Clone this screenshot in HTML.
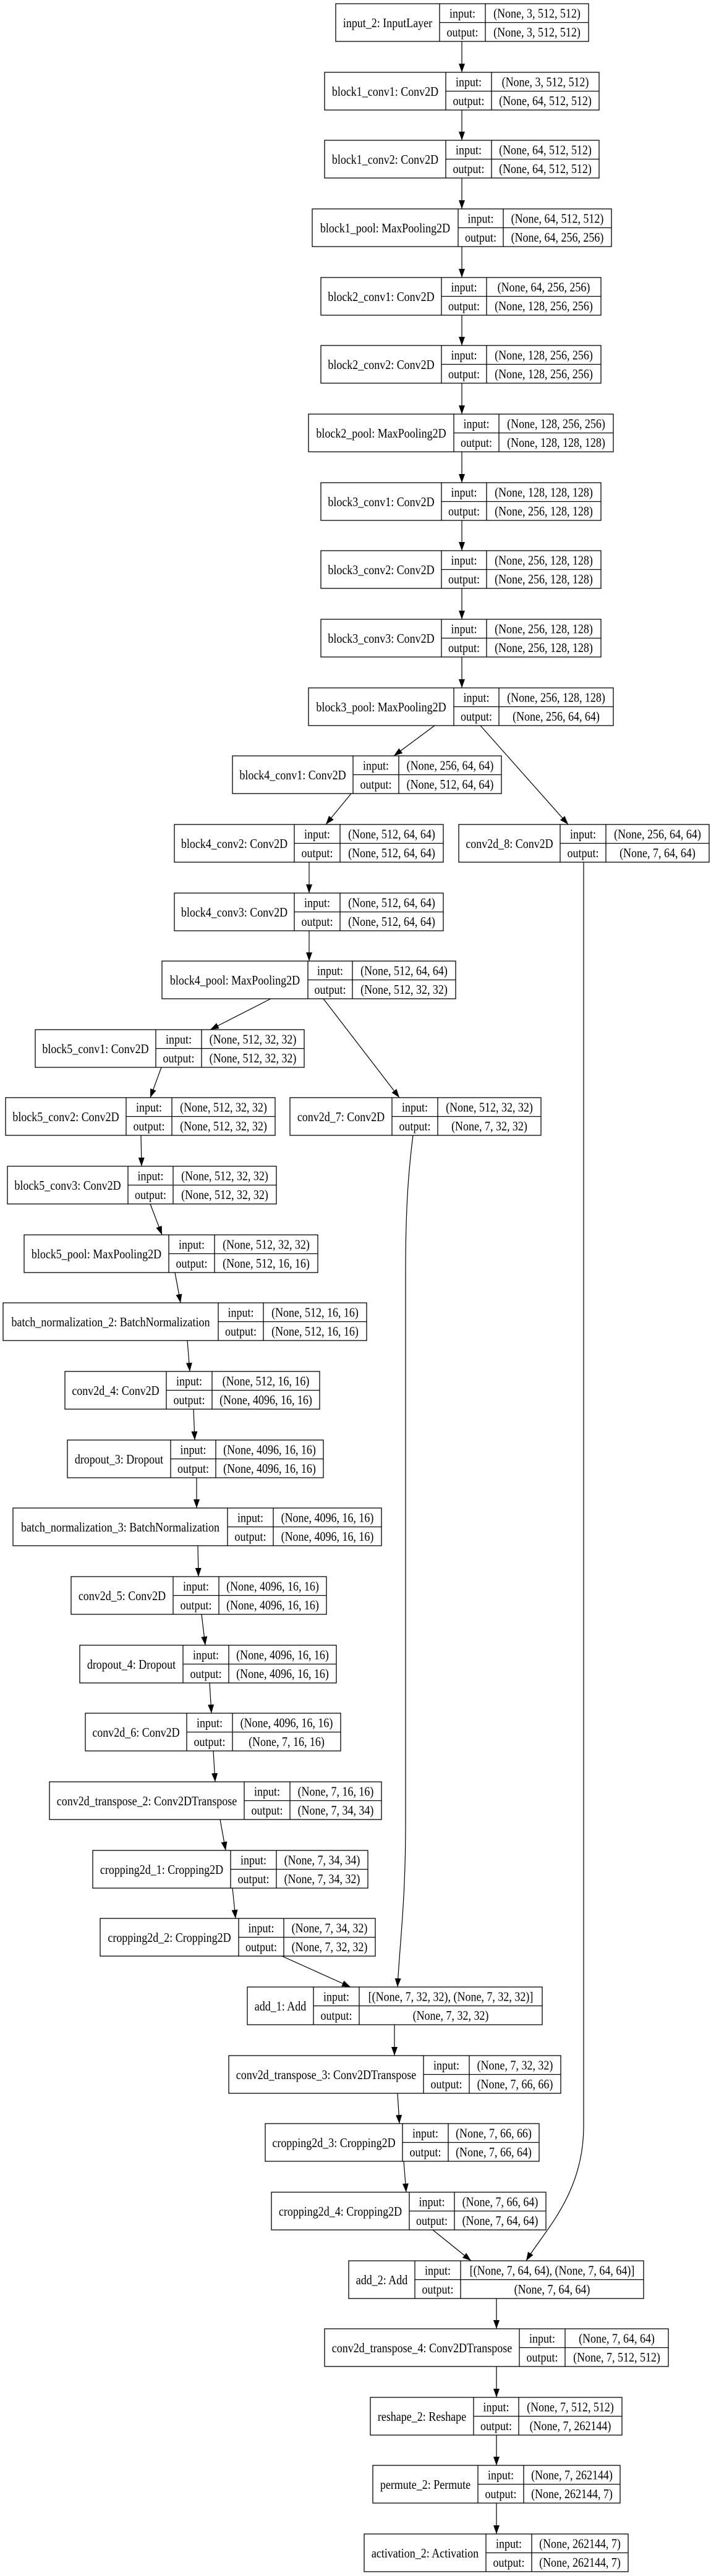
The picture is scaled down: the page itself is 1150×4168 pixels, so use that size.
<!DOCTYPE html>
<html><head><meta charset="utf-8">
<style>
html,body{margin:0;padding:0;background:#fff;}
svg{display:block;}
text{font-family:"Liberation Serif","Times New Roman",serif;font-size:18px;fill:#000;text-anchor:middle;transform-box:fill-box;transform-origin:center;transform:scaleY(1.15);}
.n rect{fill:#fff;stroke:#000;stroke-width:1.3;}
.n line{stroke:#000;stroke-width:1.3;}
.e{fill:none;stroke:#000;stroke-width:1.2;marker-end:url(#ah);}
</style></head><body>
<svg width="1150" height="4168" viewBox="0 0 1150 4168" xmlns="http://www.w3.org/2000/svg">
<defs><marker id="ah" markerUnits="userSpaceOnUse" markerWidth="14" markerHeight="10" refX="14" refY="5" orient="auto"><path d="M0,0 L14,5 L0,10 z" fill="#000"/></marker></defs>

<!-- edges -->
<path class="e" d="M747,67 L747,117"/>
<path class="e" d="M747,178 L747,227"/>
<path class="e" d="M747,288 L747,338"/>
<path class="e" d="M747,399 L747,449"/>
<path class="e" d="M747,510 L747,559"/>
<path class="e" d="M747,620 L747,670"/>
<path class="e" d="M747,731 L747,781"/>
<path class="e" d="M747,842 L747,891"/>
<path class="e" d="M747,952 L747,1002"/>
<path class="e" d="M747,1063 L747,1113"/>
<path class="e" d="M703,1174 L637,1223"/>
<path class="e" d="M777,1174 L919,1334"/>
<path class="e" d="M568,1284 L527,1334"/>
<path class="e" d="M500,1395 L500,1445"/>
<path class="e" d="M500,1506 L500,1555"/>
<path class="e" d="M438,1616 L340,1666"/>
<path class="e" d="M523,1616 L646,1776"/>
<path class="e" d="M261,1727 L243,1776"/>
<path class="e" d="M228,1837 L229,1887"/>
<path class="e" d="M243,1948 L262,1998"/>
<path class="e" d="M283,2059 L292,2108"/>
<path class="e" d="M303,2169 L307,2219"/>
<path class="e" d="M313,2280 L315,2330"/>
<path class="e" d="M318,2391 L318,2440"/>
<path class="e" d="M320,2501 L321,2551"/>
<path class="e" d="M326,2612 L332,2662"/>
<path class="e" d="M339,2723 L342,2772"/>
<path class="e" d="M345,2833 L348,2883"/>
<path class="e" d="M356,2944 L365,2994"/>
<path class="e" d="M376,3055 L381,3104"/>
<path class="e" d="M456,3165 L567,3215"/>
<path class="e" d="M668,1837 C660,1900 656,1960 656,2060 L656,2950 C656,3080 646,3150 643,3215"/>
<path class="e" d="M638,3276 L638,3326"/>
<path class="e" d="M643,3387 L646,3436"/>
<path class="e" d="M653,3497 L657,3547"/>
<path class="e" d="M700,3608 L762,3658"/>
<path class="e" d="M944,1395 L944,3440 C944,3550 880,3610 851,3658"/>
<path class="e" d="M803,3719 L803,3768"/>
<path class="e" d="M803,3829 L803,3879"/>
<path class="e" d="M803,3940 L803,3989"/>
<path class="e" d="M803,4050 L803,4100"/>

<!-- nodes -->
<g class="n" transform="translate(543,6)"><rect width="409" height="61"/><line x1="168" y1="0" x2="168" y2="61"/><line x1="242" y1="0" x2="242" y2="61"/><line x1="168" y1="30.5" x2="409" y2="30.5"/>
<text x="84" y="37">input_2: InputLayer</text><text x="205" y="21.5">input:</text><text x="205" y="52">output:</text><text x="325.5" y="21.5">(None, 3, 512, 512)</text><text x="325.5" y="52">(None, 3, 512, 512)</text></g>

<g class="n" transform="translate(525,117)"><rect width="444" height="61"/><line x1="196" y1="0" x2="196" y2="61"/><line x1="270" y1="0" x2="270" y2="61"/><line x1="196" y1="30.5" x2="444" y2="30.5"/>
<text x="98" y="37">block1_conv1: Conv2D</text><text x="233" y="21.5">input:</text><text x="233" y="52">output:</text><text x="357" y="21.5">(None, 3, 512, 512)</text><text x="357" y="52">(None, 64, 512, 512)</text></g>

<g class="n" transform="translate(525,227)"><rect width="444" height="61"/><line x1="196" y1="0" x2="196" y2="61"/><line x1="270" y1="0" x2="270" y2="61"/><line x1="196" y1="30.5" x2="444" y2="30.5"/>
<text x="98" y="37">block1_conv2: Conv2D</text><text x="233" y="21.5">input:</text><text x="233" y="52">output:</text><text x="357" y="21.5">(None, 64, 512, 512)</text><text x="357" y="52">(None, 64, 512, 512)</text></g>

<g class="n" transform="translate(505,338)"><rect width="484" height="61"/><line x1="236" y1="0" x2="236" y2="61"/><line x1="309" y1="0" x2="309" y2="61"/><line x1="236" y1="30.5" x2="484" y2="30.5"/>
<text x="118" y="37">block1_pool: MaxPooling2D</text><text x="272.5" y="21.5">input:</text><text x="272.5" y="52">output:</text><text x="396.5" y="21.5">(None, 64, 512, 512)</text><text x="396.5" y="52">(None, 64, 256, 256)</text></g>

<g class="n" transform="translate(519,449)"><rect width="453" height="61"/><line x1="195" y1="0" x2="195" y2="61"/><line x1="268" y1="0" x2="268" y2="61"/><line x1="195" y1="30.5" x2="453" y2="30.5"/>
<text x="97.5" y="37">block2_conv1: Conv2D</text><text x="231.5" y="21.5">input:</text><text x="231.5" y="52">output:</text><text x="360.5" y="21.5">(None, 64, 256, 256)</text><text x="360.5" y="52">(None, 128, 256, 256)</text></g>

<g class="n" transform="translate(519,559)"><rect width="453" height="61"/><line x1="195" y1="0" x2="195" y2="61"/><line x1="268" y1="0" x2="268" y2="61"/><line x1="195" y1="30.5" x2="453" y2="30.5"/>
<text x="97.5" y="37">block2_conv2: Conv2D</text><text x="231.5" y="21.5">input:</text><text x="231.5" y="52">output:</text><text x="360.5" y="21.5">(None, 128, 256, 256)</text><text x="360.5" y="52">(None, 128, 256, 256)</text></g>

<g class="n" transform="translate(499,670)"><rect width="493" height="61"/><line x1="235" y1="0" x2="235" y2="61"/><line x1="308" y1="0" x2="308" y2="61"/><line x1="235" y1="30.5" x2="493" y2="30.5"/>
<text x="117.5" y="37">block2_pool: MaxPooling2D</text><text x="271.5" y="21.5">input:</text><text x="271.5" y="52">output:</text><text x="400.5" y="21.5">(None, 128, 256, 256)</text><text x="400.5" y="52">(None, 128, 128, 128)</text></g>

<g class="n" transform="translate(519,781)"><rect width="453" height="61"/><line x1="195" y1="0" x2="195" y2="61"/><line x1="268" y1="0" x2="268" y2="61"/><line x1="195" y1="30.5" x2="453" y2="30.5"/>
<text x="97.5" y="37">block3_conv1: Conv2D</text><text x="231.5" y="21.5">input:</text><text x="231.5" y="52">output:</text><text x="360.5" y="21.5">(None, 128, 128, 128)</text><text x="360.5" y="52">(None, 256, 128, 128)</text></g>

<g class="n" transform="translate(519,891)"><rect width="453" height="61"/><line x1="195" y1="0" x2="195" y2="61"/><line x1="268" y1="0" x2="268" y2="61"/><line x1="195" y1="30.5" x2="453" y2="30.5"/>
<text x="97.5" y="37">block3_conv2: Conv2D</text><text x="231.5" y="21.5">input:</text><text x="231.5" y="52">output:</text><text x="360.5" y="21.5">(None, 256, 128, 128)</text><text x="360.5" y="52">(None, 256, 128, 128)</text></g>

<g class="n" transform="translate(519,1002)"><rect width="453" height="61"/><line x1="195" y1="0" x2="195" y2="61"/><line x1="268" y1="0" x2="268" y2="61"/><line x1="195" y1="30.5" x2="453" y2="30.5"/>
<text x="97.5" y="37">block3_conv3: Conv2D</text><text x="231.5" y="21.5">input:</text><text x="231.5" y="52">output:</text><text x="360.5" y="21.5">(None, 256, 128, 128)</text><text x="360.5" y="52">(None, 256, 128, 128)</text></g>

<g class="n" transform="translate(499,1113)"><rect width="493" height="61"/><line x1="235" y1="0" x2="235" y2="61"/><line x1="308" y1="0" x2="308" y2="61"/><line x1="235" y1="30.5" x2="493" y2="30.5"/>
<text x="117.5" y="37">block3_pool: MaxPooling2D</text><text x="271.5" y="21.5">input:</text><text x="271.5" y="52">output:</text><text x="400.5" y="21.5">(None, 256, 128, 128)</text><text x="400.5" y="52">(None, 256, 64, 64)</text></g>

<g class="n" transform="translate(376,1223)"><rect width="435" height="61"/><line x1="195" y1="0" x2="195" y2="61"/><line x1="269" y1="0" x2="269" y2="61"/><line x1="195" y1="30.5" x2="435" y2="30.5"/>
<text x="97.5" y="37">block4_conv1: Conv2D</text><text x="232" y="21.5">input:</text><text x="232" y="52">output:</text><text x="352" y="21.5">(None, 256, 64, 64)</text><text x="352" y="52">(None, 512, 64, 64)</text></g>

<g class="n" transform="translate(282,1334)"><rect width="435" height="61"/><line x1="194" y1="0" x2="194" y2="61"/><line x1="268" y1="0" x2="268" y2="61"/><line x1="194" y1="30.5" x2="435" y2="30.5"/>
<text x="97" y="37">block4_conv2: Conv2D</text><text x="231" y="21.5">input:</text><text x="231" y="52">output:</text><text x="351.5" y="21.5">(None, 512, 64, 64)</text><text x="351.5" y="52">(None, 512, 64, 64)</text></g>

<g class="n" transform="translate(742,1334)"><rect width="405" height="61"/><line x1="164" y1="0" x2="164" y2="61"/><line x1="238" y1="0" x2="238" y2="61"/><line x1="164" y1="30.5" x2="405" y2="30.5"/>
<text x="82" y="37">conv2d_8: Conv2D</text><text x="201" y="21.5">input:</text><text x="201" y="52">output:</text><text x="321.5" y="21.5">(None, 256, 64, 64)</text><text x="321.5" y="52">(None, 7, 64, 64)</text></g>

<g class="n" transform="translate(282,1445)"><rect width="435" height="61"/><line x1="194" y1="0" x2="194" y2="61"/><line x1="268" y1="0" x2="268" y2="61"/><line x1="194" y1="30.5" x2="435" y2="30.5"/>
<text x="97" y="37">block4_conv3: Conv2D</text><text x="231" y="21.5">input:</text><text x="231" y="52">output:</text><text x="351.5" y="21.5">(None, 512, 64, 64)</text><text x="351.5" y="52">(None, 512, 64, 64)</text></g>

<g class="n" transform="translate(262,1555)"><rect width="475" height="61"/><line x1="236" y1="0" x2="236" y2="61"/><line x1="308" y1="0" x2="308" y2="61"/><line x1="236" y1="30.5" x2="475" y2="30.5"/>
<text x="118" y="37">block4_pool: MaxPooling2D</text><text x="272" y="21.5">input:</text><text x="272" y="52">output:</text><text x="391.5" y="21.5">(None, 512, 64, 64)</text><text x="391.5" y="52">(None, 512, 32, 32)</text></g>

<g class="n" transform="translate(57,1666)"><rect width="435" height="61"/><line x1="195" y1="0" x2="195" y2="61"/><line x1="269" y1="0" x2="269" y2="61"/><line x1="195" y1="30.5" x2="435" y2="30.5"/>
<text x="97.5" y="37">block5_conv1: Conv2D</text><text x="232" y="21.5">input:</text><text x="232" y="52">output:</text><text x="352" y="21.5">(None, 512, 32, 32)</text><text x="352" y="52">(None, 512, 32, 32)</text></g>

<g class="n" transform="translate(9,1776)"><rect width="436" height="61"/><line x1="195" y1="0" x2="195" y2="61"/><line x1="269" y1="0" x2="269" y2="61"/><line x1="195" y1="30.5" x2="436" y2="30.5"/>
<text x="97.5" y="37">block5_conv2: Conv2D</text><text x="232" y="21.5">input:</text><text x="232" y="52">output:</text><text x="352.5" y="21.5">(None, 512, 32, 32)</text><text x="352.5" y="52">(None, 512, 32, 32)</text></g>

<g class="n" transform="translate(469,1776)"><rect width="406" height="61"/><line x1="165" y1="0" x2="165" y2="61"/><line x1="239" y1="0" x2="239" y2="61"/><line x1="165" y1="30.5" x2="406" y2="30.5"/>
<text x="82.5" y="37">conv2d_7: Conv2D</text><text x="202" y="21.5">input:</text><text x="202" y="52">output:</text><text x="322.5" y="21.5">(None, 512, 32, 32)</text><text x="322.5" y="52">(None, 7, 32, 32)</text></g>

<g class="n" transform="translate(12,1887)"><rect width="435" height="61"/><line x1="195" y1="0" x2="195" y2="61"/><line x1="268" y1="0" x2="268" y2="61"/><line x1="195" y1="30.5" x2="435" y2="30.5"/>
<text x="97.5" y="37">block5_conv3: Conv2D</text><text x="231.5" y="21.5">input:</text><text x="231.5" y="52">output:</text><text x="351.5" y="21.5">(None, 512, 32, 32)</text><text x="351.5" y="52">(None, 512, 32, 32)</text></g>

<g class="n" transform="translate(39,1998)"><rect width="475" height="61"/><line x1="234" y1="0" x2="234" y2="61"/><line x1="308" y1="0" x2="308" y2="61"/><line x1="234" y1="30.5" x2="475" y2="30.5"/>
<text x="117" y="37">block5_pool: MaxPooling2D</text><text x="271" y="21.5">input:</text><text x="271" y="52">output:</text><text x="391.5" y="21.5">(None, 512, 32, 32)</text><text x="391.5" y="52">(None, 512, 16, 16)</text></g>

<g class="n" transform="translate(5,2108)"><rect width="588" height="61"/><line x1="348" y1="0" x2="348" y2="61"/><line x1="421" y1="0" x2="421" y2="61"/><line x1="348" y1="30.5" x2="588" y2="30.5"/>
<text x="174" y="37">batch_normalization_2: BatchNormalization</text><text x="384.5" y="21.5">input:</text><text x="384.5" y="52">output:</text><text x="504.5" y="21.5">(None, 512, 16, 16)</text><text x="504.5" y="52">(None, 512, 16, 16)</text></g>

<g class="n" transform="translate(105,2219)"><rect width="412" height="61"/><line x1="164" y1="0" x2="164" y2="61"/><line x1="238" y1="0" x2="238" y2="61"/><line x1="164" y1="30.5" x2="412" y2="30.5"/>
<text x="82" y="37">conv2d_4: Conv2D</text><text x="201" y="21.5">input:</text><text x="201" y="52">output:</text><text x="325" y="21.5">(None, 512, 16, 16)</text><text x="325" y="52">(None, 4096, 16, 16)</text></g>

<g class="n" transform="translate(109,2330)"><rect width="414" height="61"/><line x1="167" y1="0" x2="167" y2="61"/><line x1="240" y1="0" x2="240" y2="61"/><line x1="167" y1="30.5" x2="414" y2="30.5"/>
<text x="83.5" y="37">dropout_3: Dropout</text><text x="203.5" y="21.5">input:</text><text x="203.5" y="52">output:</text><text x="327" y="21.5">(None, 4096, 16, 16)</text><text x="327" y="52">(None, 4096, 16, 16)</text></g>

<g class="n" transform="translate(21,2440)"><rect width="596" height="61"/><line x1="347" y1="0" x2="347" y2="61"/><line x1="421" y1="0" x2="421" y2="61"/><line x1="347" y1="30.5" x2="596" y2="30.5"/>
<text x="173.5" y="37">batch_normalization_3: BatchNormalization</text><text x="384" y="21.5">input:</text><text x="384" y="52">output:</text><text x="508.5" y="21.5">(None, 4096, 16, 16)</text><text x="508.5" y="52">(None, 4096, 16, 16)</text></g>

<g class="n" transform="translate(115,2551)"><rect width="413" height="61"/><line x1="165" y1="0" x2="165" y2="61"/><line x1="239" y1="0" x2="239" y2="61"/><line x1="165" y1="30.5" x2="413" y2="30.5"/>
<text x="82.5" y="37">conv2d_5: Conv2D</text><text x="202" y="21.5">input:</text><text x="202" y="52">output:</text><text x="326" y="21.5">(None, 4096, 16, 16)</text><text x="326" y="52">(None, 4096, 16, 16)</text></g>

<g class="n" transform="translate(129,2662)"><rect width="415" height="61"/><line x1="167" y1="0" x2="167" y2="61"/><line x1="241" y1="0" x2="241" y2="61"/><line x1="167" y1="30.5" x2="415" y2="30.5"/>
<text x="83.5" y="37">dropout_4: Dropout</text><text x="204" y="21.5">input:</text><text x="204" y="52">output:</text><text x="328" y="21.5">(None, 4096, 16, 16)</text><text x="328" y="52">(None, 4096, 16, 16)</text></g>

<g class="n" transform="translate(138,2772)"><rect width="413" height="61"/><line x1="164" y1="0" x2="164" y2="61"/><line x1="238" y1="0" x2="238" y2="61"/><line x1="164" y1="30.5" x2="413" y2="30.5"/>
<text x="82" y="37">conv2d_6: Conv2D</text><text x="201" y="21.5">input:</text><text x="201" y="52">output:</text><text x="325.5" y="21.5">(None, 4096, 16, 16)</text><text x="325.5" y="52">(None, 7, 16, 16)</text></g>

<g class="n" transform="translate(80,2883)"><rect width="537" height="61"/><line x1="315" y1="0" x2="315" y2="61"/><line x1="389" y1="0" x2="389" y2="61"/><line x1="315" y1="30.5" x2="537" y2="30.5"/>
<text x="157.5" y="37">conv2d_transpose_2: Conv2DTranspose</text><text x="352" y="21.5">input:</text><text x="352" y="52">output:</text><text x="463" y="21.5">(None, 7, 16, 16)</text><text x="463" y="52">(None, 7, 34, 34)</text></g>

<g class="n" transform="translate(150,2994)"><rect width="445" height="61"/><line x1="223" y1="0" x2="223" y2="61"/><line x1="297" y1="0" x2="297" y2="61"/><line x1="223" y1="30.5" x2="445" y2="30.5"/>
<text x="111.5" y="37">cropping2d_1: Cropping2D</text><text x="260" y="21.5">input:</text><text x="260" y="52">output:</text><text x="371" y="21.5">(None, 7, 34, 34)</text><text x="371" y="52">(None, 7, 34, 32)</text></g>

<g class="n" transform="translate(162,3104)"><rect width="445" height="61"/><line x1="224" y1="0" x2="224" y2="61"/><line x1="297" y1="0" x2="297" y2="61"/><line x1="224" y1="30.5" x2="445" y2="30.5"/>
<text x="112" y="37">cropping2d_2: Cropping2D</text><text x="260.5" y="21.5">input:</text><text x="260.5" y="52">output:</text><text x="371" y="21.5">(None, 7, 34, 32)</text><text x="371" y="52">(None, 7, 32, 32)</text></g>

<g class="n" transform="translate(400,3215)"><rect width="477" height="61"/><line x1="107" y1="0" x2="107" y2="61"/><line x1="181" y1="0" x2="181" y2="61"/><line x1="107" y1="30.5" x2="477" y2="30.5"/>
<text x="53.5" y="37">add_1: Add</text><text x="144" y="21.5">input:</text><text x="144" y="52">output:</text><text x="329" y="21.5">[(None, 7, 32, 32), (None, 7, 32, 32)]</text><text x="329" y="52">(None, 7, 32, 32)</text></g>

<g class="n" transform="translate(370,3326)"><rect width="537" height="61"/><line x1="315" y1="0" x2="315" y2="61"/><line x1="389" y1="0" x2="389" y2="61"/><line x1="315" y1="30.5" x2="537" y2="30.5"/>
<text x="157.5" y="37">conv2d_transpose_3: Conv2DTranspose</text><text x="352" y="21.5">input:</text><text x="352" y="52">output:</text><text x="463" y="21.5">(None, 7, 32, 32)</text><text x="463" y="52">(None, 7, 66, 66)</text></g>

<g class="n" transform="translate(429,3436)"><rect width="443" height="61"/><line x1="222" y1="0" x2="222" y2="61"/><line x1="296" y1="0" x2="296" y2="61"/><line x1="222" y1="30.5" x2="443" y2="30.5"/>
<text x="111" y="37">cropping2d_3: Cropping2D</text><text x="259" y="21.5">input:</text><text x="259" y="52">output:</text><text x="369.5" y="21.5">(None, 7, 66, 66)</text><text x="369.5" y="52">(None, 7, 66, 64)</text></g>

<g class="n" transform="translate(439,3547)"><rect width="444" height="61"/><line x1="223" y1="0" x2="223" y2="61"/><line x1="296" y1="0" x2="296" y2="61"/><line x1="223" y1="30.5" x2="444" y2="30.5"/>
<text x="111.5" y="37">cropping2d_4: Cropping2D</text><text x="259.5" y="21.5">input:</text><text x="259.5" y="52">output:</text><text x="370" y="21.5">(None, 7, 66, 64)</text><text x="370" y="52">(None, 7, 64, 64)</text></g>

<g class="n" transform="translate(564,3658)"><rect width="477" height="61"/><line x1="107" y1="0" x2="107" y2="61"/><line x1="181" y1="0" x2="181" y2="61"/><line x1="107" y1="30.5" x2="477" y2="30.5"/>
<text x="53.5" y="37">add_2: Add</text><text x="144" y="21.5">input:</text><text x="144" y="52">output:</text><text x="329" y="21.5">[(None, 7, 64, 64), (None, 7, 64, 64)]</text><text x="329" y="52">(None, 7, 64, 64)</text></g>

<g class="n" transform="translate(525,3768)"><rect width="556" height="61"/><line x1="315" y1="0" x2="315" y2="61"/><line x1="389" y1="0" x2="389" y2="61"/><line x1="315" y1="30.5" x2="556" y2="30.5"/>
<text x="157.5" y="37">conv2d_transpose_4: Conv2DTranspose</text><text x="352" y="21.5">input:</text><text x="352" y="52">output:</text><text x="472.5" y="21.5">(None, 7, 64, 64)</text><text x="472.5" y="52">(None, 7, 512, 512)</text></g>

<g class="n" transform="translate(599,3879)"><rect width="407" height="61"/><line x1="167" y1="0" x2="167" y2="61"/><line x1="240" y1="0" x2="240" y2="61"/><line x1="167" y1="30.5" x2="407" y2="30.5"/>
<text x="83.5" y="37">reshape_2: Reshape</text><text x="203.5" y="21.5">input:</text><text x="203.5" y="52">output:</text><text x="323.5" y="21.5">(None, 7, 512, 512)</text><text x="323.5" y="52">(None, 7, 262144)</text></g>

<g class="n" transform="translate(603,3989)"><rect width="400" height="61"/><line x1="170" y1="0" x2="170" y2="61"/><line x1="244" y1="0" x2="244" y2="61"/><line x1="170" y1="30.5" x2="400" y2="30.5"/>
<text x="85" y="37">permute_2: Permute</text><text x="207" y="21.5">input:</text><text x="207" y="52">output:</text><text x="322" y="21.5">(None, 7, 262144)</text><text x="322" y="52">(None, 262144, 7)</text></g>

<g class="n" transform="translate(589,4100)"><rect width="427" height="61"/><line x1="197" y1="0" x2="197" y2="61"/><line x1="271" y1="0" x2="271" y2="61"/><line x1="197" y1="30.5" x2="427" y2="30.5"/>
<text x="98.5" y="37">activation_2: Activation</text><text x="234" y="21.5">input:</text><text x="234" y="52">output:</text><text x="349" y="21.5">(None, 262144, 7)</text><text x="349" y="52">(None, 262144, 7)</text></g>
</svg>
</body></html>
